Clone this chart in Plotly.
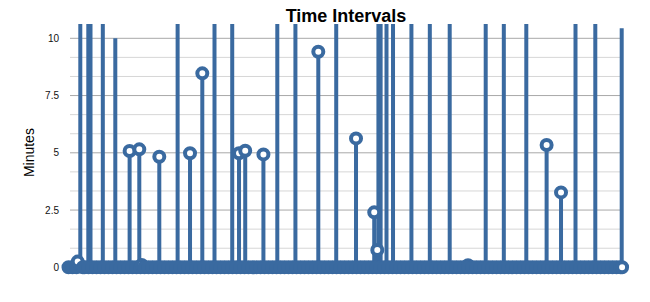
import plotly.graph_objects as go

# ---- data ----
# readings on an unlabelled time axis (sample units); these readings are all 0 minutes
zero_times = [
    0, 1, 2, 3.6, 4, 5, 6, 7, 8, 9, 10, 11, 12, 13, 14, 15, 16, 17, 18, 19,
    20, 21, 22, 23, 24, 25, 26, 27, 28, 29, 30, 31, 32, 33, 34, 35, 36, 37, 38, 39,
    40, 41, 42, 43, 44, 45, 46, 47, 48, 49, 50, 51, 52, 53, 54, 55, 56, 57, 58, 59,
    60, 61, 62, 63, 64, 65, 66, 67, 68, 69, 70, 71, 72, 73, 74, 75, 76, 77, 78, 79,
    80, 81, 82, 83, 84, 85, 86, 87, 88, 89, 90, 91, 92, 93, 94, 95, 96, 97, 98, 99,
    100, 101, 102, 103, 104, 105, 106, 107, 108, 109, 110, 111, 112, 113, 114, 115, 116, 117, 118, 119,
    120, 121, 122, 123, 124, 125, 126, 127, 128, 129, 130, 131, 132, 133, 134, 135, 136, 137, 138, 138.4,
]
zero_minutes = [0 for _ in zero_times]

# non-zero intervals (values above ~10.6 run off the top of the chart; estimated)
event_times = [
    2.3, 2.95, 4.95, 5.5, 8.58, 11.7, 15.28, 17.7, 18.3, 22.7,
    27.28, 30.38, 33.45, 36.5, 40.93, 42.63, 44.18, 48.73, 52.2, 56.73,
    62.45, 66.93, 71.88, 76.43, 77.2, 77.48, 78.03, 79.5, 81.13, 85.73,
    90.33, 95.3, 99.88, 104.3, 108.83, 114.45, 119.53, 123.13, 126.75, 131.7,
    138.3,
]
event_minutes = [
    0.25, 14, 21, 17, 26, 10.0, 5.08, 5.15, 0.1, 4.83,
    19, 4.98, 8.47, 23, 16, 4.98, 5.09, 4.93, 28, 15,
    9.41, 20, 5.63, 2.40, 0.76, 31, 18, 13, 22, 17,
    25, 14, 0.09, 19, 27, 16, 5.34, 3.27, 21, 15,
    10.44,
]

y_tick_values = [0, 2.5, 5, 7.5, 10]
y_tick_labels = ["0", "2.5", "5", "7.5", "10"]

# ---- styling ----
BLUE = "#3a6aa0"
FONT = "Liberation Sans, Arial, Helvetica, sans-serif"

records = sorted(zip(zero_times + event_times, zero_minutes + event_minutes))
times = [r[0] for r in records]
minutes = [r[1] for r in records]
n = len(records)

# line path: baseline at 0 with a vertical excursion at each reading
line_x, line_y = [], []
for t, v in records:
    line_x.append(t)
    line_y.append(0)
    if v:
        line_x += [t, t]
        line_y += [v, 0]

# hollow markers for non-zero readings and for the last reading; the dense
# zero readings merge into a solid band
fill = ["white" if (v > 0 or i == n - 1) else BLUE for i, v in enumerate(minutes)]
opac = [1 if v < 10 else 0 for v in minutes]

fig = go.Figure()
fig.add_trace(go.Scatter(
    x=line_x, y=line_y, mode="lines",
    line=dict(color=BLUE, width=4),
    hoverinfo="skip", showlegend=False,
))
fig.add_trace(go.Scatter(
    x=times, y=minutes, mode="markers",
    marker=dict(size=10, color=fill, opacity=opac,
                line=dict(color=BLUE, width=4)),
    showlegend=False,
))

# horizontal grid (major at ticks, two minor lines between)
shapes = []
major = y_tick_values
minor = []
for a, b in zip(major[:-1], major[1:]):
    step = (b - a) / 3
    minor += [a + step, a + 2 * step]
for yv in minor:
    shapes.append(dict(type="line", xref="paper", yref="y", x0=0.0175, x1=0.981,
                       y0=yv, y1=yv, line=dict(color="#d6d6d6", width=1), layer="below"))
for yv in major:
    shapes.append(dict(type="line", xref="paper", yref="y", x0=0.0175, x1=0.981,
                       y0=yv, y1=yv, line=dict(color="#a8a8a8", width=1), layer="below"))

fig.update_layout(
    width=650, height=302,
    margin=dict(l=60, r=18, t=24, b=27),
    paper_bgcolor="white", plot_bgcolor="white",
    font=dict(family=FONT, color="#111"),
    title=dict(text="Time Intervals", x=0.5, xref="paper", xanchor="center",
               y=0.948, yref="container", yanchor="middle",
               font=dict(family=FONT, size=18, color="#000", weight="bold")),
    xaxis=dict(visible=False, range=[-2.125, 140.875]),
    yaxis=dict(range=[-0.336, 10.625], tickvals=y_tick_values, ticktext=y_tick_labels,
               showgrid=False, zeroline=False, showline=False, ticks="",
               tickfont=dict(family=FONT, size=10, color="#111")),
    shapes=shapes,
    annotations=[dict(text="Minutes", textangle=-90, xref="paper", yref="y",
                      x=-0.0554, y=5.0, xanchor="center", yanchor="middle",
                      showarrow=False, font=dict(family=FONT, size=14, color="#000"))],
    hovermode="closest",
)

fig.write_html("out.html")
